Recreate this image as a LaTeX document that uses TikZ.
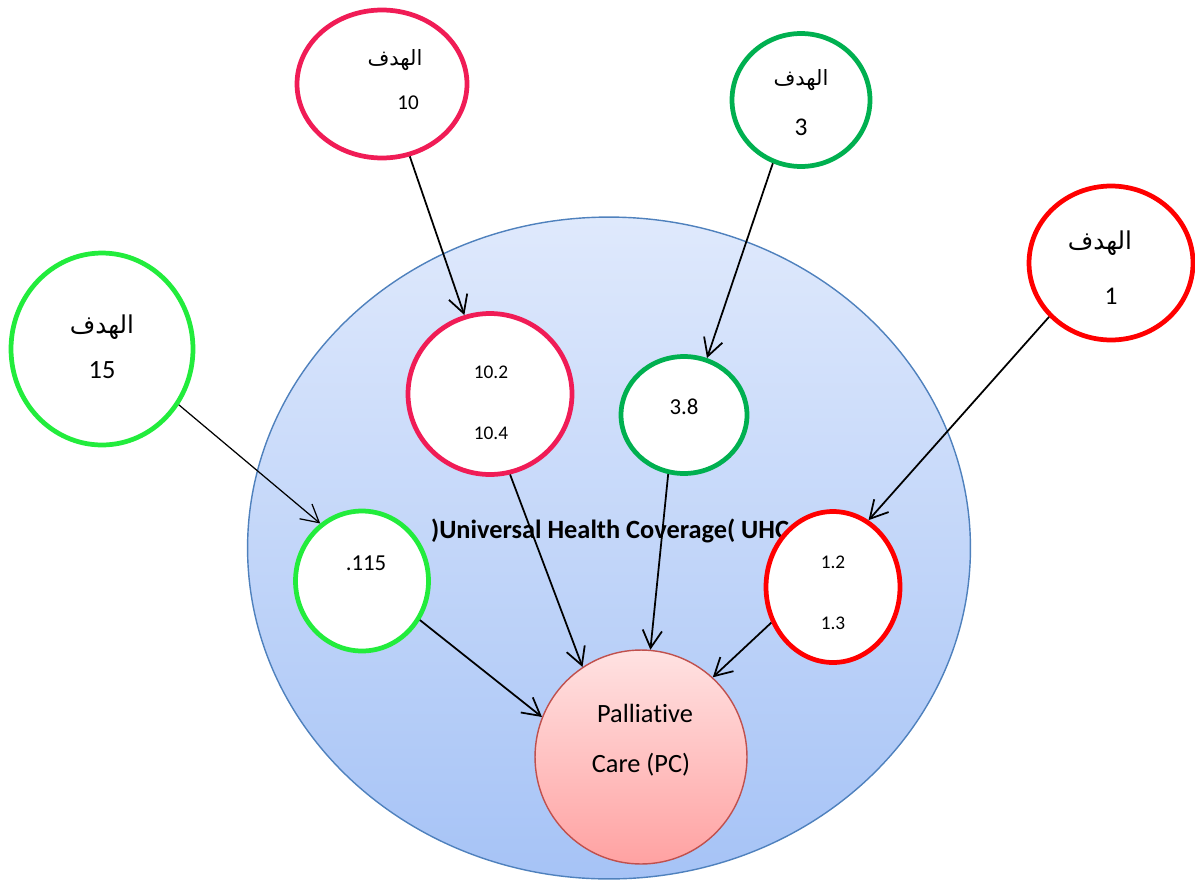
\documentclass[tikz,border=0pt]{standalone}
\usepackage{fontspec}
\setmainfont[Ligatures=NoCommon]{Carlito}
\newfontfamily\arabicfont[Script=Arabic]{DejaVu Sans}
\TeXXeTstate=1
\usetikzlibrary{shapes.geometric,arrows.meta}

\definecolor{crimson}{RGB}{240,28,86}
\definecolor{darkgreen}{RGB}{0,176,80}
\definecolor{brightgreen}{RGB}{34,236,60}
\definecolor{pureRed}{RGB}{255,0,0}
\definecolor{uhctop}{RGB}{223,233,252}
\definecolor{uhcbottom}{RGB}{166,195,246}
\definecolor{uhcline}{RGB}{79,129,189}
\definecolor{pctop}{RGB}{255,226,226}
\definecolor{pcbottom}{RGB}{255,162,162}
\definecolor{pcline}{RGB}{192,80,77}

\newcommand{\hadaf}{\arabicfont\beginR الهدف\endR}

\tikzset{
  goal/.style={ellipse, draw, line width=2.7pt, fill=white, inner sep=0pt},
  txt/.style={inner sep=0pt, font=\fontsize{#1}{#1}\selectfont},
  link/.style={-{Straight Barb[length=10pt,width=11pt]}, line width=1pt},
}

\begin{document}
\begin{tikzpicture}[x=0.02cm, y=-0.02cm]
  \useasboundingbox (0,0) rectangle (1195,879);

  % big ellipse
  \node[ellipse, draw=uhcline, line width=0.8pt, top color=uhctop, bottom color=uhcbottom,
        minimum width=14.46cm, minimum height=13.24cm, inner sep=0pt] (uhc) at (609,548) {};
  \node[txt=15, font=\fontsize{15}{15}\selectfont\bfseries] (uhctitle) at (610,531) {)Universal Health Coverage( UHC};

  % goals
  \node[goal, draw=crimson, minimum width=3.4cm, minimum height=2.96cm] (g10) at (382,84) {};
  \node[goal, draw=darkgreen, minimum width=2.76cm, minimum height=2.66cm] (g3) at (801,100) {};
  \node[goal, draw=pureRed, minimum width=3.28cm, minimum height=3.08cm] (g1) at (1111,263) {};
  \node[goal, draw=brightgreen, minimum width=3.64cm, minimum height=3.84cm] (g15) at (102,349) {};

  \node[txt=12] (g10a) at (395,60) {\hadaf};
  \node[txt=12] (g10n) at (408,103) {10};
  \node[txt=12] (g3a) at (801,80) {\hadaf};
  \node[txt=14.5] (g3n) at (801,127) {3};
  \node[txt=14] (g1a) at (1100,243) {\hadaf};
  \node[txt=14.5] (g1n) at (1111,296) {1};
  \node[txt=14] (g15a) at (102,327) {\hadaf};
  \node[txt=15] (g15n) at (102,370) {15};

  % targets
  \node[goal, draw=crimson, minimum width=3.28cm, minimum height=3.22cm] (t10) at (490,394) {};
  \node[goal, draw=darkgreen, minimum width=2.52cm, minimum height=2.34cm] (t3) at (684,415) {};
  \node[goal, draw=brightgreen, minimum width=2.66cm, minimum height=2.8cm] (t15) at (362,581) {};
  \node[goal, draw=pureRed, minimum width=2.68cm, minimum height=3.02cm] (t1) at (833,587) {};

  \node[txt=11] (t10a) at (491,372) {10.2};
  \node[txt=11] (t10b) at (491,433) {10.4};
  \node[txt=13] (t3a) at (684,407) {3.8};
  \node[txt=13] (t15a) at (366,563) {.115};
  \node[txt=11] (t1a) at (833,562) {1.2};
  \node[txt=11] (t1b) at (833,623) {1.3};

  % palliative care
  \node[ellipse, draw=pcline, line width=0.8pt, top color=pctop, bottom color=pcbottom,
        minimum width=4.24cm, minimum height=4.28cm, inner sep=0pt] (pc) at (641,757) {};
  \node[txt=15] (pca) at (645,713) {Palliative};
  \node[txt=15] (pcb) at (641,765) {Care (PC)};

  % arrows
  \draw[link] (g10.-69) -- (t10.108);
  \draw[link] (g3.-114) -- (t3.68);
  \draw[link] (g1.-139) -- (t1.62);
  \draw[link, line width=0.7pt] (g15.-36) -- (t15.126);
  \draw[link] (t10.-76) -- (pc.123);
  \draw[link] (t3.-105) -- (pc.85);
  \draw[link] (t1.-150) -- (pc.48);
  \draw[link] (t15.-34) -- (pc.158);
\end{tikzpicture}
\end{document}
